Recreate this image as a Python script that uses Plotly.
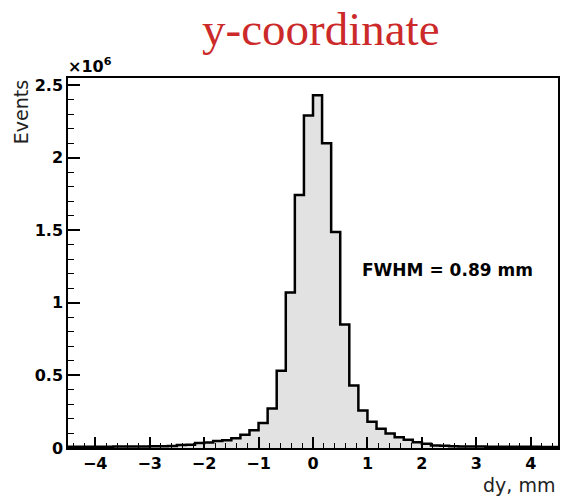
import numpy as np
import plotly.graph_objects as go

# Histogram definition: 54 bins of width 1/6 mm from -4.5 to 4.5 mm
bin_start = -4.5
bin_width = 1.0 / 6.0

# Events per bin, in units of 10^6, left to right
events_millions = [
    0.008, 0.008, 0.009, 0.009, 0.009, 0.010, 0.010, 0.011, 0.011, 0.012,
    0.012, 0.014, 0.020, 0.022, 0.034, 0.038, 0.048, 0.054, 0.068, 0.092,
    0.122, 0.172, 0.272, 0.532, 1.070, 1.742, 2.290,
    2.430, 2.098, 1.488, 0.850, 0.431, 0.258, 0.180, 0.132, 0.100, 0.074,
    0.057, 0.040, 0.029, 0.018, 0.016, 0.012, 0.011, 0.010, 0.010, 0.009,
    0.009, 0.009, 0.008, 0.008, 0.008, 0.007, 0.007,
]

x_ticks = [-4, -3, -2, -1, 0, 1, 2, 3, 4]
y_ticks = [0, 0.5, 1, 1.5, 2, 2.5]
y_ticktext = ["0", "0.5", "1", "1.5", "2", "2.5"]

title_text = "y-coordinate"
x_title = "dy, mm"
y_title = "Events"
fwhm_text = "FWHM = 0.89 mm"

n = len(events_millions)
edges = bin_start + bin_width * np.arange(n + 1)
step_y = list(events_millions) + [events_millions[-1]]

W, H = 562, 501
L, R, T, B = 68, 2, 78, 53
pw = W - L - R
ph = H - T - B

def px(xpix):
    return (xpix - L) / pw

def py(ypix):
    return (H - B - ypix) / ph

fig = go.Figure()
fig.add_trace(go.Scatter(
    x=edges, y=step_y, mode="lines", line_shape="hv",
    fill="tozeroy", fillcolor="#e2e2e2",
    line=dict(color="black", width=2.5),
    hoverinfo="skip", showlegend=False,
))

tick_font = dict(family="DejaVu Sans", size=16, color="black", weight="bold")

fig.update_layout(
    width=W, height=H,
    margin=dict(l=L, r=R, t=T, b=B),
    paper_bgcolor="white", plot_bgcolor="white",
    showlegend=False,
    xaxis=dict(
        range=[-4.5, 4.5], tickmode="array", tickvals=x_ticks,
        ticks="inside", ticklen=11, tickwidth=1.5, tickcolor="black",
        minor=dict(tickmode="linear", tick0=0, dtick=0.2, ticks="inside",
                   ticklen=5, tickwidth=1.2, tickcolor="black"),
        showgrid=False, zeroline=False,
        showline=True, mirror=True, linecolor="black", linewidth=2,
        tickfont=tick_font,
    ),
    yaxis=dict(
        range=[0, 2.548], tickmode="array", tickvals=y_ticks, ticktext=y_ticktext,
        ticks="inside", ticklen=12, tickwidth=1.5, tickcolor="black",
        minor=dict(tickmode="linear", tick0=0, dtick=0.1, ticks="inside",
                   ticklen=6, tickwidth=1.2, tickcolor="black"),
        showgrid=False, zeroline=False,
        showline=True, mirror=True, linecolor="black", linewidth=1.5,
        tickfont=tick_font,
    ),
)

fig.add_annotation(
    text=title_text, xref="paper", yref="paper",
    x=px(322), y=py(29), xanchor="center", yanchor="middle", showarrow=False,
    font=dict(family="Liberation Serif", size=47, color="#cc2a2a"),
)
fig.add_annotation(
    text="×10<sup>6</sup>", xref="paper", yref="paper",
    x=px(66), y=py(78), xanchor="left", yanchor="bottom", showarrow=False,
    font=dict(family="DejaVu Sans", size=16, color="black", weight="bold"),
)
fig.add_annotation(
    text=y_title, xref="paper", yref="paper", textangle=-90,
    x=px(21), y=py(112), xanchor="center", yanchor="middle", showarrow=False,
    font=dict(family="DejaVu Sans", size=19, color="#222222"),
)
fig.add_annotation(
    text=x_title, xref="paper", yref="paper",
    x=px(559), y=py(485), xanchor="right", yanchor="middle", showarrow=False,
    font=dict(family="DejaVu Sans", size=19, color="#222222"),
)
fig.add_annotation(
    text=fwhm_text, xref="paper", yref="paper",
    x=px(361), y=py(270), xanchor="left", yanchor="middle", showarrow=False,
    font=dict(family="DejaVu Sans", size=17, color="black", weight="bold"),
)

fig.write_html(
    "out.html",
    config={"displayModeBar": False},
    post_script="document.body.style.margin='0px';document.body.style.padding='0px';",
)
